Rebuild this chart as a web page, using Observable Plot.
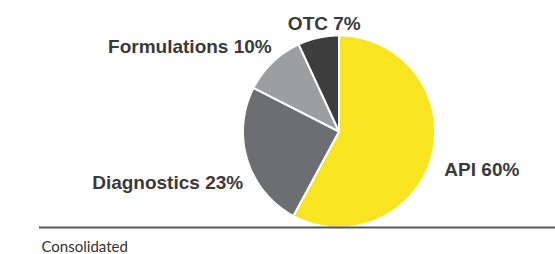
<!DOCTYPE html>
<html>
<head>
<meta charset="utf-8">
<script src="https://cdn.jsdelivr.net/npm/d3@7"></script>
<script src="https://cdn.jsdelivr.net/npm/@observablehq/plot@0.6"></script>
<style>
  html, body { margin: 0; padding: 0; background: #fff; }
  #chart svg { display: block; }
</style>
</head>
<body>
<div id="chart"></div>
<script>
// ---- data ----
const categories = ["API", "Diagnostics", "Formulations", "OTC"];
const shares = [57.9, 24.6, 10.6, 6.9];          // slice sizes
const labelText = ["API 60%", "Diagnostics 23%", "Formulations 10%", "OTC 7%"];
const caption = "Consolidated";

// ---- styles ----
const colors = ["#f9e51f", "#6d6e71", "#9d9ea0", "#3d3d3e"];
const labelAnchor = ["start", "end", "end", "middle"];
const labelDx = [3, 5, 6, 8];
const labelDy = [19, 26, -2, 2];

const pie = d3.pie().sort(null).startAngle(0).endAngle(2 * Math.PI)(shares);

// sector outlines in unit-circle coordinates (angle 0 at top, clockwise)
const sectorPts = [];
pie.forEach((p, i) => {
  const name = categories[i];
  sectorPts.push({name, x: 0, y: 0});
  const n = Math.max(2, Math.ceil((p.endAngle - p.startAngle) / 0.01));
  for (let k = 0; k <= n; k++) {
    const a = p.startAngle + (p.endAngle - p.startAngle) * k / n;
    sectorPts.push({name, x: Math.sin(a), y: Math.cos(a)});
  }
  sectorPts.push({name, x: 0, y: 0});
});

const labels = pie.map((p, i) => {
  const a = (p.startAngle + p.endAngle) / 2;
  return {name: categories[i], text: labelText[i], x: 1.1 * Math.sin(a), y: 1.1 * Math.cos(a)};
});

const cx = 338.5, cy = 131, r = 96;

const chart = Plot.plot({
  width: 555,
  height: 254,
  marginTop: 0,
  marginBottom: 0,
  marginLeft: 39,
  marginRight: 0,
  style: {background: "#fff"},
  x: {domain: [-1, 1], range: [cx - r, cx + r], axis: null},
  y: {domain: [-1, 1], range: [cy + r, cy - r], axis: null},
  color: {domain: categories, range: colors},
  marks: [
    Plot.line(sectorPts, {x: "x", y: "y", z: "name", fill: "name", stroke: "#fff", strokeWidth: 2, strokeLinejoin: "round", curve: "linear"}),
    Plot.ruleY([-1], {stroke: "#555", strokeWidth: 2}),
    ...labels.map((d, i) => Plot.text([d], {
      x: "x", y: "y", text: "text",
      textAnchor: labelAnchor[i], lineAnchor: "bottom",
      dx: labelDx[i], dy: labelDy[i],
      fontFamily: "Liberation Sans, Arial, sans-serif", fontWeight: "bold", fontSize: 19,
      fill: "#3a3a3a"
    })),
    Plot.text([caption], {
      frameAnchor: "bottom-left", text: d => d, textAnchor: "start", lineAnchor: "bottom",
      dx: 2, dy: -3,
      fontFamily: "Lato, sans-serif", fontSize: 15, fill: "#333"
    })
  ]
});
document.getElementById("chart").appendChild(chart);
</script>
</body>
</html>
